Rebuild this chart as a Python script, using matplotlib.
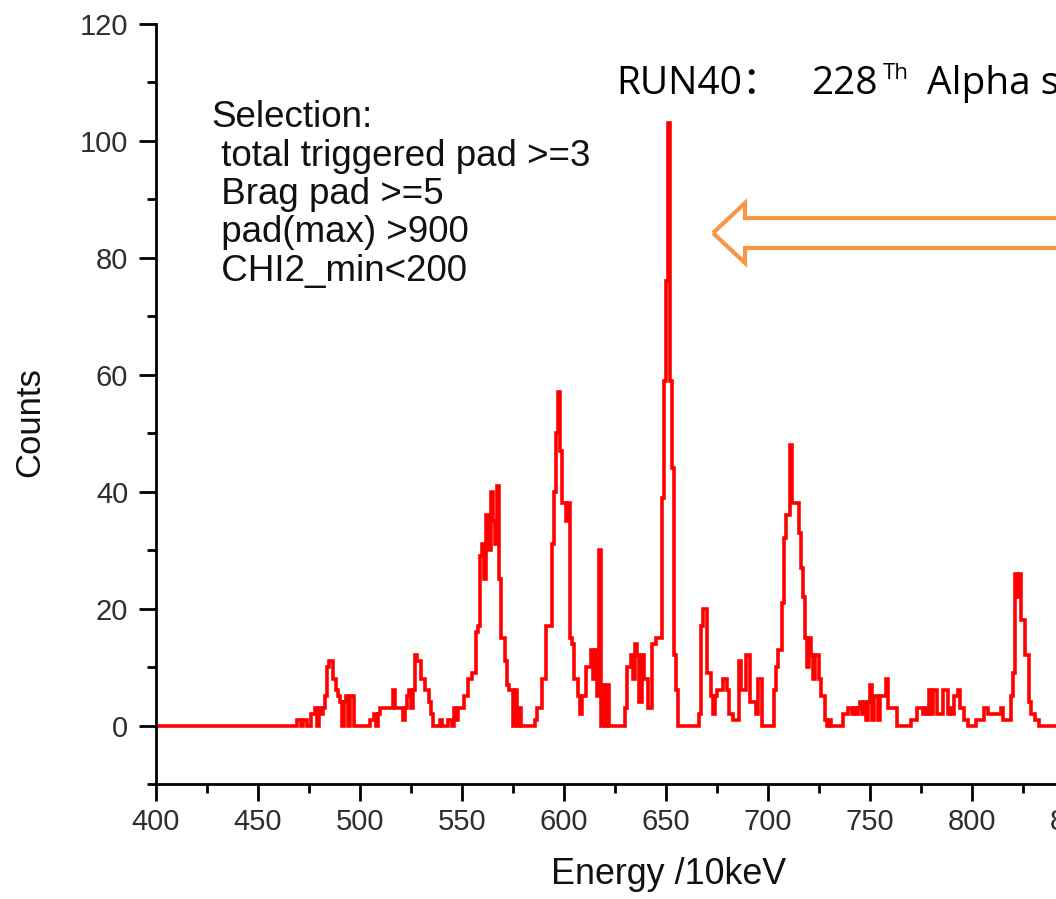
import matplotlib
matplotlib.use('Agg')
import matplotlib.pyplot as plt
import numpy as np
from matplotlib.ticker import MultipleLocator
from matplotlib.patches import Polygon

# histogram: 1 bin = 1 unit (10 keV), counts from bin 466 onwards
first_bin = 466
counts = [
    0, 0, 0,
    1, 1, 0, 1, 1, 0, 0, 2, 2, 3,            # 469-478
    0, 3, 2, 3, 5, 10, 11, 11, 8, 6,         # 479-488
    5, 4, 0, 4, 5, 0, 5, 5, 0, 0,            # 489-498
    0, 0, 0, 0, 0, 0, 1, 1, 2, 0,            # 499-508
    2, 3, 3, 3, 3, 3, 3, 6, 3, 3,            # 509-518
    3, 3, 1, 3, 5, 6, 3, 6, 12, 11,          # 519-528
    11, 8, 8, 6, 6, 4, 2, 0, 0, 0,           # 529-538
    1, 0, 0, 0, 1, 1, 0, 3, 1, 3,            # 539-548
    3, 3, 5, 5, 8, 8, 9, 9, 16, 17,          # 549-558
    29, 31, 25, 36, 30, 40, 35, 31, 41, 25,  # 559-568
    15, 15, 11, 7, 6, 6, 0, 6, 0, 3,         # 569-578
    0, 0, 0, 0, 0, 0, 0, 1, 3, 3,            # 579-588
    8, 8, 17, 17, 17, 31, 40, 50, 57, 47,    # 589-598
    38, 38, 35, 38, 15, 14, 8, 8, 5, 2,      # 599-608
    5, 5, 10, 10, 13, 8, 13, 5, 30, 0,       # 609-618
    7, 0, 7, 0, 0, 0, 0, 0, 0, 0,            # 619-628
    0, 3, 10, 10, 12, 8, 14, 12, 4, 12,      # 629-638
    8, 8, 3, 3, 14, 14, 15, 15, 15, 39,      # 639-648
    59, 76, 103, 59, 44, 12, 6, 0, 0, 0,     # 649-658
    0, 0, 0, 0, 0, 0, 0, 2, 17, 20,          # 659-668
    20, 9, 9, 5, 2, 5, 6, 6, 6, 8,           # 669-678
    8, 6, 2, 2, 1, 1, 1, 11, 6, 6,           # 679-688
    12, 12, 4, 4, 4, 2, 8, 8, 0, 0,          # 689-698
    0, 0, 0, 0, 6, 10, 13, 13, 21, 32,       # 699-708
    36, 36, 48, 38, 38, 38, 33, 27, 22, 15,  # 709-718
    10, 15, 12, 8, 12, 12, 8, 5, 5, 1,       # 719-728
    0, 1, 0, 0, 0, 0, 0, 0, 2, 2,            # 729-738
    3, 3, 2, 3, 2, 3, 4, 2, 4, 1,            # 739-748
    4, 7, 1, 5, 5, 1, 5, 5, 5, 8,            # 749-758
    3, 3, 3, 3, 0, 0, 0, 0, 0, 0,            # 759-768
    0, 1, 1, 1, 3, 3, 3, 2, 3, 2,            # 769-778
    6, 2, 6, 6, 2, 2, 2, 6, 6, 2,            # 779-788
    3, 2, 5, 5, 6, 3, 3, 1, 1, 0,            # 789-798
    0, 0, 0, 1, 1, 1, 1, 3, 3, 2,            # 799-808
    2, 2, 2, 2, 2, 3, 1, 1, 1, 1,            # 809-818
    5, 9, 26, 22, 26, 18, 18, 12, 12, 4,     # 819-828
    2, 2, 1, 1, 0,                           # 829-833
]

x_min, x_max = 400, 900
x_ticks = [400, 450, 500, 550, 600, 650, 700, 750, 800, 850]
y_ticks = [0, 20, 40, 60, 80, 100, 120]

selection = ['Selection:', ' total triggered pad >=3', ' Brag pad >=5',
             ' pad(max) >900', ' CHI2_min<200']

edges = np.arange(x_min, x_max + 1)
hist = np.zeros(len(edges) - 1)
hist[first_bin - x_min:first_bin - x_min + len(counts)] = counts

W, H = 1056, 899
fig = plt.figure(figsize=(W / 100, H / 100), dpi=100)
plt.rcParams['font.family'] = ['Liberation Sans', 'DejaVu Sans']

ax = fig.add_axes([156 / W, 1 - 784 / H, 1020 / W, 760 / H])
ax.stairs(hist, edges, color='#ff0000', lw=2.6)

ax.set_xlim(x_min, x_max)
ax.set_ylim(-10, 120)
ax.set_xticks(x_ticks)
ax.set_yticks(y_ticks)
ax.xaxis.set_minor_locator(MultipleLocator(25))
ax.yaxis.set_minor_locator(MultipleLocator(10))
for s in ['top', 'right']:
    ax.spines[s].set_visible(False)
for s in ['left', 'bottom']:
    ax.spines[s].set_linewidth(2)
ax.tick_params(axis='both', which='major', direction='out', length=12, width=2,
               labelsize=21, labelcolor='#2e2e2e')
ax.tick_params(axis='both', which='minor', direction='out', length=6.5, width=2)
ax.tick_params(axis='x', which='major', pad=5)
ax.tick_params(axis='y', which='major', pad=8)

ax.set_xlabel('Energy /10keV', fontsize=25.8, color='#111111')
ax.xaxis.set_label_coords(0.5025, -0.096)
ax.set_ylabel('Counts', fontsize=25, color='#111111')
ax.yaxis.set_label_coords(-0.108, 0.476)

# selection cuts
for i, line in enumerate(selection):
    fig.text(211 / W, 1 - (127 + i * 38.5) / H, line, fontsize=26.5,
             va='baseline', ha='left', color='#111111')

# slide title (cut at the right edge, as in the source slide)
tfont = ['Open Sans', 'Noto Sans CJK SC', 'DejaVu Sans']
fig.text(616 / W, 1 - 94 / H, 'RUN40：', fontsize=28, family=tfont, va='baseline')
fig.text(811 / W, 1 - 94 / H, '228', fontsize=28, family=tfont, va='baseline')
fig.text(883 / W, 1 - 79 / H, 'Th', fontsize=16, family=tfont, va='baseline')
fig.text(927 / W, 1 - 94 / H, 'Alpha spectrum', fontsize=28, family=tfont, va='baseline')

# hollow orange arrow pointing at the main peak
arrow_px = [(713, 233), (745, 203), (745, 218), (1110, 218),
            (1110, 248), (745, 248), (745, 263)]
arrow = Polygon([(x / W, 1 - y / H) for x, y in arrow_px], closed=True,
                fill=False, edgecolor='#F79646', lw=3, joinstyle='miter',
                transform=fig.transFigure)
fig.add_artist(arrow)

plt.savefig('out.png', dpi=100)
